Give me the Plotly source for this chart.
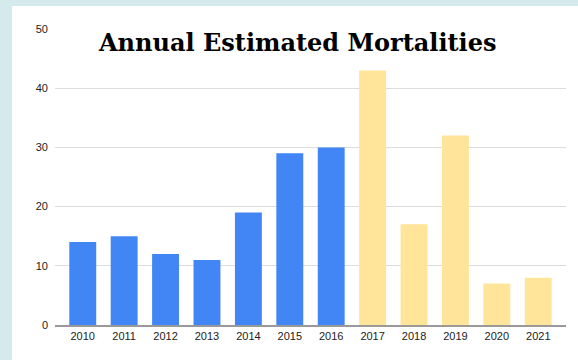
import plotly.graph_objects as go

# Annual estimated mortalities by year
years = ["2010", "2011", "2012", "2013", "2014", "2015", "2016",
         "2017", "2018", "2019", "2020", "2021"]
mortalities = [14, 15, 12, 11, 19, 29, 30, 43, 17, 32, 7, 8]
bar_colors = ["#4285F4"] * 7 + ["#FFE599"] * 5
y_ticks = [0, 10, 20, 30, 40, 50]

PLOT_W, PLOT_H = 511, 296

fig = go.Figure(
    go.Bar(
        x=list(range(len(years))),
        y=mortalities,
        marker=dict(color=bar_colors, line=dict(width=0)),
        hovertext=years,
        hoverinfo="text+y",
    )
)

fig.update_layout(
    width=578,
    height=360,
    margin=dict(l=55, r=12, t=29, b=35),
    paper_bgcolor="#D4EAED",
    plot_bgcolor="rgba(0,0,0,0)",
    bargap=0.35,
    showlegend=False,
    font=dict(family="Liberation Sans, Arial, sans-serif", size=11, color="#222222"),
    shapes=[
        # white card behind the chart
        dict(type="rect", xref="paper", yref="paper",
             x0=(12 - 55) / PLOT_W, x1=1 + 12 / PLOT_W,
             y0=-35 / PLOT_H, y1=1 + 23 / PLOT_H,
             fillcolor="white", line=dict(width=0), layer="below"),
    ],
    annotations=[
        dict(text="<b>Annual Estimated Mortalities</b>", xref="paper", yref="paper",
             x=0.475, y=0.955, xanchor="center", yanchor="middle", showarrow=False,
             font=dict(family="DejaVu Serif, serif", size=24, color="#000000")),
    ],
)

fig.update_xaxes(
    range=[-0.67, len(years) - 0.33],
    tickvals=list(range(len(years))), ticktext=years,
    showgrid=False, showline=True, linecolor="#999999", linewidth=1.5,
    ticks="", tickfont=dict(size=11, color="#222222"), fixedrange=True,
)
fig.update_yaxes(
    range=[0, 50], tickvals=y_ticks, showgrid=True, gridcolor="#DDDDDD",
    gridwidth=1, zeroline=False, ticks="", ticklabelstandoff=6,
    tickfont=dict(size=11, color="#222222"), fixedrange=True,
)

fig.write_html("out.html")
